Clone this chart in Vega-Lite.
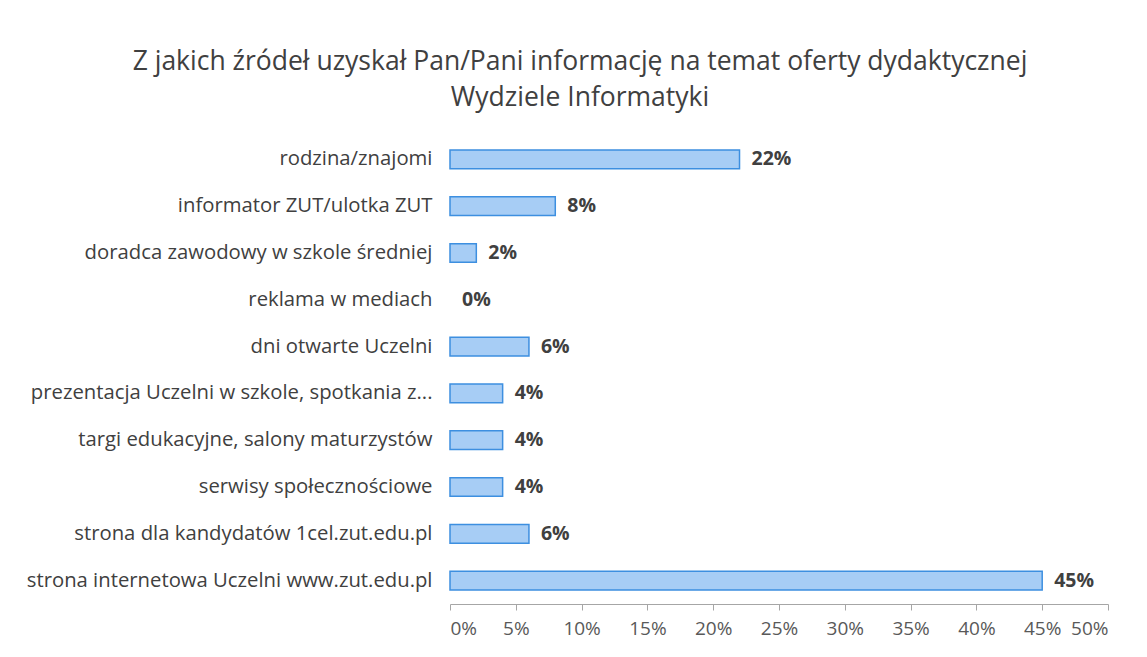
{
  "$schema": "https://vega.github.io/schema/vega-lite/v6.json",
  "width": 658,
  "height": 468,
  "autosize": "none",
  "padding": {"left": 450, "top": 136, "right": 39, "bottom": 53},
  "background": "white",
  "config": {"view": {"stroke": null}, "font": "Open Sans"},
  "title": {
    "text": ["Z jakich  źródeł uzyskał Pan/Pani informację na temat oferty dydaktycznej", "Wydziele Informatyki"],
    "fontSize": 26.5,
    "fontWeight": "normal",
    "color": "#404040",
    "lineHeight": 36,
    "anchor": "middle",
    "dx": -199,
    "offset": 25
  },
  "data": {
    "values": [
      {"zrodlo": "rodzina/znajomi", "udzial": 0.22},
      {"zrodlo": "informator ZUT/ulotka ZUT", "udzial": 0.08},
      {"zrodlo": "doradca zawodowy w szkole średniej", "udzial": 0.02},
      {"zrodlo": "reklama w mediach", "udzial": 0.0},
      {"zrodlo": "dni otwarte Uczelni", "udzial": 0.06},
      {"zrodlo": "prezentacja Uczelni w szkole,  spotkania z...", "udzial": 0.04},
      {"zrodlo": "targi edukacyjne, salony maturzystów", "udzial": 0.04},
      {"zrodlo": "serwisy społecznościowe", "udzial": 0.04},
      {"zrodlo": "strona dla kandydatów 1cel.zut.edu.pl", "udzial": 0.06},
      {"zrodlo": "strona internetowa Uczelni www.zut.edu.pl", "udzial": 0.45}
    ]
  },
  "encoding": {
    "y": {
      "field": "zrodlo",
      "type": "nominal",
      "sort": null,
      "scale": {"paddingInner": 0.6, "paddingOuter": 0.3},
      "axis": {
        "title": null,
        "domain": false,
        "ticks": false,
        "labelFontSize": 20.3,
        "labelColor": "#404040",
        "labelPadding": 18,
        "labelLimit": 440
      }
    },
    "x": {
      "field": "udzial",
      "type": "quantitative",
      "scale": {"domain": [0, 0.5], "nice": false},
      "axis": {
        "title": null,
        "values": [0, 0.05, 0.1, 0.15, 0.2, 0.25, 0.3, 0.35, 0.4, 0.45, 0.5],
        "format": ".0%",
        "grid": false,
        "domainColor": "#a6a6a6",
        "tickColor": "#a6a6a6",
        "tickSize": 6,
        "labelFontSize": 19,
        "labelColor": "#595959",
        "labelPadding": 9
      }
    }
  },
  "layer": [
    {
      "mark": {"type": "bar", "fill": "#a7cdf5", "stroke": "#3d8fe0", "strokeWidth": 1.5},
      "encoding": {
        "strokeOpacity": {"condition": {"test": "datum.udzial == 0", "value": 0}, "value": 1}
      }
    },
    {
      "mark": {"type": "text", "align": "left", "baseline": "middle", "dx": 12, "fontSize": 19.5, "fontWeight": "bold", "color": "#404040"},
      "encoding": {"text": {"field": "udzial", "type": "quantitative", "format": ".0%"}}
    }
  ]
}
